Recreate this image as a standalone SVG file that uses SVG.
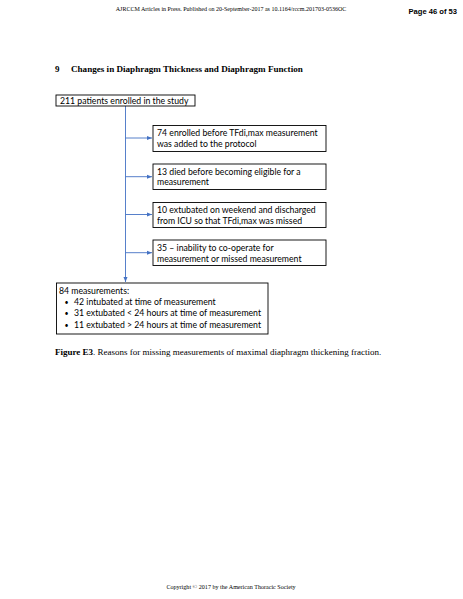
<svg xmlns="http://www.w3.org/2000/svg" width="463" height="599" viewBox="0 0 463 599">
<defs>
<style>
.box{fill:#fff;stroke:#000;stroke-width:0.9}
.t{font-family:Lato,"Open Sans","Liberation Sans",sans-serif;font-size:8.7px;fill:#000}
.b{font-family:Lato,"Open Sans","Liberation Sans",sans-serif;font-size:7px;fill:#000}
.conn{stroke:#4472C4;stroke-width:0.9;fill:none}
.serif{font-family:"Liberation Serif","Times New Roman",serif;fill:#000}
</style>
<marker id="ah" markerWidth="6" markerHeight="6" refX="5" refY="3" orient="auto" markerUnits="userSpaceOnUse">
<path d="M0,1 L5,3 L0,5 Z" fill="#4472C4"/>
</marker>
</defs>
<rect width="463" height="599" fill="#fff"/>
<text class="serif" x="231" y="11" font-size="6" text-anchor="middle">AJRCCM Articles in Press. Published on 20-September-2017 as 10.1164/rccm.201703-0536OC</text>
<text x="457" y="14" font-family="'Liberation Sans',Arial,sans-serif" font-size="7.6" font-weight="bold" text-anchor="end">Page 46 of 53</text>
<text class="serif" x="55" y="72" font-size="9" font-weight="bold">9</text>
<text class="serif" x="71" y="72" font-size="9.1" font-weight="bold">Changes in Diaphragm Thickness and Diaphragm Function</text>

<g id="connectors">
<path class="conn" d="M125.5,106 V282" marker-end="url(#ah)"/>
<path class="conn" d="M125.5,138 H152" marker-end="url(#ah)"/>
<path class="conn" d="M125.5,176.7 H152" marker-end="url(#ah)"/>
<path class="conn" d="M125.5,214.5 H152" marker-end="url(#ah)"/>
<path class="conn" d="M125.5,252.7 H152" marker-end="url(#ah)"/>
</g>

<g id="n0">
<rect class="box" x="56" y="95" width="139" height="11"/>
<text class="t" x="60" y="103.5">211 patients enrolled in the study</text>
</g>
<g id="n1">
<rect class="box" x="153" y="125.5" width="173" height="26"/>
<text class="t" x="157" y="136">74 enrolled before TFdi,max measurement</text>
<text class="t" x="157" y="146.5">was added to the protocol</text>
</g>
<g id="n2">
<rect class="box" x="153" y="164" width="173" height="25.5"/>
<text class="t" x="157" y="174.5">13 died before becoming eligible for a</text>
<text class="t" x="157" y="185">measurement</text>
</g>
<g id="n3">
<rect class="box" x="153" y="202.5" width="173" height="25"/>
<text class="t" x="157" y="212.5">10 extubated on weekend and discharged</text>
<text class="t" x="157" y="223.5">from ICU so that TFdi,max was missed</text>
</g>
<g id="n4">
<rect class="box" x="153" y="240" width="173" height="25.5"/>
<text class="t" x="157" y="250.5">35 – inability to co-operate for</text>
<text class="t" x="157" y="261.5">measurement or missed measurement</text>
</g>
<g id="n5">
<rect class="box" x="56.5" y="283" width="211.5" height="51"/>
<text class="t" x="59" y="294">84 measurements:</text>
<text class="b" x="64.5" y="304.5">•</text><text class="t" x="74" y="304.5">42 intubated at time of measurement</text>
<text class="b" x="64.5" y="316">•</text><text class="t" x="74" y="316">31 extubated &lt; 24 hours at time of measurement</text>
<text class="b" x="64.5" y="327.5">•</text><text class="t" x="74" y="327.5">11 extubated &gt; 24 hours at time of measurement</text>
</g>

<text class="serif" x="55" y="355" font-size="9"><tspan font-weight="bold">Figure E3</tspan>. Reasons for missing measurements of maximal diaphragm thickening fraction.</text>
<text class="serif" x="231" y="589" font-size="6.1" text-anchor="middle">Copyright © 2017 by the American Thoracic Society</text>
</svg>
